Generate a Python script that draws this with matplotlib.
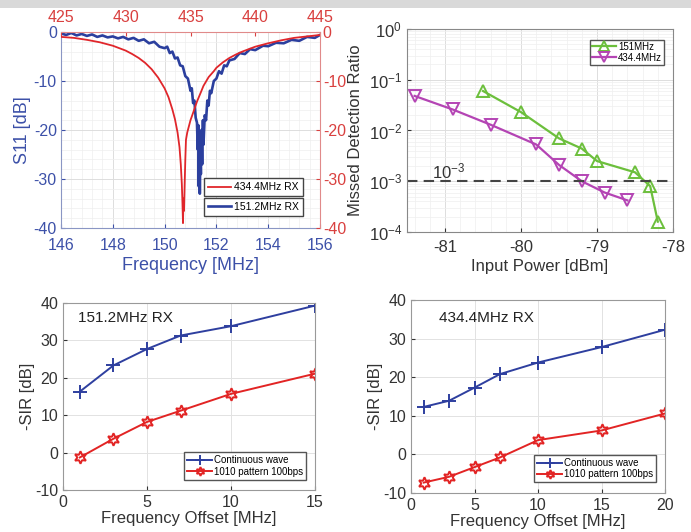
import numpy as np
import matplotlib
matplotlib.use("Agg")
import matplotlib.pyplot as plt
from matplotlib.ticker import AutoMinorLocator, LogLocator, NullFormatter
from matplotlib.patches import Rectangle

plt.rcParams['font.family'] = ['Liberation Sans', 'DejaVu Sans']
plt.rcParams['axes.unicode_minus'] = False
plt.rcParams['mathtext.fontset'] = 'custom'
plt.rcParams['mathtext.rm'] = 'Liberation Sans'
plt.rcParams['mathtext.it'] = 'Liberation Sans'
plt.rcParams['mathtext.default'] = 'regular'

# ---- S11 data ----
# 151.2 MHz RX, bottom axis [MHz], left axis [dB]
f151 = [146.0, 146.2, 146.4, 146.6, 146.8, 147.0, 147.2, 147.4, 147.6, 147.8,
        148.0, 148.2, 148.4, 148.6, 148.8, 149.0, 149.2, 149.4, 149.6, 149.8,
        150.0, 150.1, 150.2, 150.3, 150.4, 150.5, 150.6, 150.7, 150.8, 150.9,
        151.0, 151.05, 151.1, 151.15, 151.2, 151.25, 151.28, 151.30, 151.32, 151.34,
        151.36, 151.38, 151.40, 151.42, 151.45, 151.48, 151.50, 151.55, 151.6, 151.65,
        151.7, 151.75, 151.8, 151.9, 152.0, 152.1, 152.2, 152.3, 152.4, 152.5,
        152.7, 152.9, 153.1, 153.3, 153.5, 153.8, 154.0, 154.3, 154.6, 154.9,
        155.2, 155.5, 155.8, 156.0]
s11_151 = [-0.3, -0.6, -0.2, -0.7, -0.4, -0.8, -0.5, -1.0, -0.7, -1.1,
           -0.9, -1.3, -1.0, -1.5, -1.2, -1.8, -1.5, -2.3, -2.0, -3.0,
           -3.3, -3.0, -4.3, -4.0, -5.4, -5.2, -6.8, -7.0, -9.0, -9.5,
           -12.0, -11.5, -14.5, -14.0, -17.5, -18.5, -24.0, -19.0, -31.5, -22.0,
           -33.0, -24.0, -29.0, -20.0, -27.0, -18.0, -23.0, -17.0, -18.0, -14.0,
           -15.0, -12.0, -12.5, -10.0, -9.5, -8.0, -8.5, -6.8, -7.0, -5.8,
           -5.5, -4.3, -4.5, -3.5, -3.7, -2.8, -2.9, -2.2, -2.3, -1.6,
           -1.8, -1.0, -1.2, -0.6]

# 434.4 MHz RX, top axis [MHz], right axis [dB]
f434 = [425.0, 426.0, 427.0, 428.0, 429.0, 430.0, 430.5, 431.0, 431.5, 432.0,
        432.5, 433.0, 433.3, 433.6, 433.8, 434.0, 434.15, 434.25, 434.33, 434.38,
        434.42, 434.46, 434.50, 434.55, 434.60, 434.65, 434.75, 434.9, 435.0, 435.2,
        435.5, 435.8, 436.0, 436.4, 436.8, 437.0, 437.5, 438.0, 438.5, 439.0,
        440.0, 441.0, 442.0, 443.0, 444.0, 445.0]
s11_434 = [-1.0, -1.2, -1.6, -2.1, -2.8, -3.8, -4.5, -5.3, -6.3, -7.6,
           -9.3, -11.5, -13.3, -15.8, -17.8, -20.5, -23.5, -27.0, -31.0, -35.0,
           -39.0, -34.0, -36.5, -31.0, -26.0, -22.0, -20.5, -19.0, -18.0, -16.5,
           -14.2, -12.3, -11.0, -9.2, -8.0, -7.3, -6.2, -5.3, -4.6, -4.0,
           -3.0, -2.3, -1.7, -1.2, -0.9, -0.6]

# ---- missed detection ratio ----
p151 = [-80.5, -80.0, -79.5, -79.2, -79.0, -78.5, -78.3, -78.2]
mdr151 = [0.06, 0.023, 0.007, 0.0044, 0.0025, 0.0015, 0.0008, 0.00016]
p434 = [-81.4, -80.9, -80.4, -79.8, -79.5, -79.2, -78.9, -78.6]
mdr434 = [0.048, 0.026, 0.013, 0.0053, 0.0021, 0.001, 0.0006, 0.00042]

# ---- SIR ----
off151 = [1, 3, 5, 7, 10, 15]
cw151 = [16.3, 23.3, 27.7, 31.3, 33.8, 39.3]
pat151 = [-1.3, 3.7, 8.2, 11.2, 15.7, 21.1]
off434 = [1, 3, 5, 7, 10, 15, 20]
cw434 = [12.3, 13.9, 17.3, 20.8, 23.8, 27.8, 32.3]
pat434 = [-7.3, -5.8, -3.3, -0.8, 3.7, 6.2, 10.6]

BLUE = '#2b3f9e'
RED = '#e0262b'
BLUE_TXT = '#3c50a8'
RED_TXT = '#d9403f'
GREEN = '#6cbf3c'
MAGENTA = '#b444b4'
LINE_B = '#2e3f9f'
LINE_R = '#e22424'
DARK = '#333333'

W, H = 691, 532
fig = plt.figure(figsize=(W / 100, H / 100), dpi=100)
fig.patches.append(Rectangle((0, 1 - 8 / H), 1, 8 / H, transform=fig.transFigure,
                             facecolor='#d9d9d9', edgecolor='none', zorder=0))


def rect(l, t, r, b):
    return [l / W, 1 - b / H, (r - l) / W, (b - t) / H]


# ---------- S11 panel ----------
ax = fig.add_axes(rect(61, 32, 320, 228))
ax.plot(f151, s11_151, color=BLUE, lw=1.9, label='151.2MHz RX')
ax.set_xlim(146, 156)
ax.set_ylim(-40, 0)
ax.set_xticks(np.arange(146, 157, 2))
ax.set_yticks(np.arange(-40, 1, 10))
ax.xaxis.set_minor_locator(AutoMinorLocator(5))
ax.yaxis.set_minor_locator(AutoMinorLocator(5))
ax.grid(True, which='major', color='#dddddd', lw=0.7)
ax.grid(True, which='minor', color='#eeeeee', lw=0.5)
ax.tick_params(which='both', direction='in', labelsize=11.5, colors=BLUE_TXT, length=3)
ax.tick_params(which='minor', length=0)
ax.tick_params(axis='y', pad=3)
ax.tick_params(axis='x', pad=7)
ax.set_xlabel('Frequency [MHz]', fontsize=13, color=BLUE_TXT, labelpad=3)
ax.set_ylabel('S11 [dB]', fontsize=13, color=BLUE_TXT, labelpad=2)
for s in ['left', 'bottom']:
    ax.spines[s].set_color('#8a96c4')
for s in ['top', 'right']:
    ax.spines[s].set_visible(False)

ax2 = fig.add_axes(rect(61, 32, 320, 228), facecolor='none')
ax2.plot(f434, s11_434, color=RED, lw=1.3, label='434.4MHz RX')
ax2.set_xlim(425, 445)
ax2.set_ylim(-40, 0)
ax2.set_xticks(np.arange(425, 446, 5))
ax2.set_yticks(np.arange(-40, 1, 10))
ax2.xaxis.tick_top()
ax2.yaxis.tick_right()
ax2.tick_params(direction='in', labelsize=11.5, colors=RED_TXT, length=3)
ax2.tick_params(axis='x', pad=5)
ax2.tick_params(axis='y', pad=2)
for s in ['left', 'bottom']:
    ax2.spines[s].set_visible(False)
for s in ['top', 'right']:
    ax2.spines[s].set_color('#e08a8a')

lg1 = ax2.legend(loc='lower right', bbox_to_anchor=(0.955, 0.135), fontsize=7.5,
                 fancybox=False, edgecolor='#444444', handlelength=2.2,
                 borderpad=0.4, handletextpad=0.3, framealpha=1)
lg2 = ax2.legend(*ax.get_legend_handles_labels(), loc='lower right',
                 bbox_to_anchor=(0.955, 0.035), fontsize=7.5, fancybox=False,
                 edgecolor='#444444', handlelength=2.2, borderpad=0.4,
                 handletextpad=0.3, framealpha=1)
ax2.add_artist(lg1)

# ---------- missed detection panel ----------
bx = fig.add_axes(rect(407, 29, 673, 232))
bx.set_yscale('log')
bx.plot(p151, mdr151, color=GREEN, lw=1.6, marker='^', ms=9, mfc='none',
        mew=1.4, label='151MHz')
bx.plot(p434, mdr434, color=MAGENTA, lw=1.6, marker='v', ms=9, mfc='none',
        mew=1.4, label='434.4MHz')
bx.axhline(1e-3, color='#444444', ls=(0, (5, 3)), lw=1.5)
bx.text(-81.17, 1.15e-3, r'$10^{-3}$', fontsize=12, color='#333333')
bx.set_xlim(-81.5, -78)
bx.set_ylim(1e-4, 1)
bx.set_xticks([-81, -80, -79, -78])
bx.yaxis.set_major_locator(LogLocator(base=10, numticks=10))
bx.yaxis.set_minor_locator(LogLocator(base=10, subs=np.arange(2, 10), numticks=10))
bx.yaxis.set_minor_formatter(NullFormatter())
bx.xaxis.set_minor_locator(AutoMinorLocator(5))
bx.grid(True, which='major', color='#dddddd', lw=0.7)
bx.grid(True, which='minor', color='#efefef', lw=0.5)
bx.tick_params(which='both', direction='in', labelsize=12, colors=DARK, length=3)
bx.tick_params(which='minor', length=0)
bx.tick_params(axis='x', pad=6)
bx.set_xlabel('Input Power [dBm]', fontsize=12, color=DARK, labelpad=3)
bx.set_ylabel('Missed Detection Ratio', fontsize=12, color=DARK, labelpad=4)
for s in bx.spines.values():
    s.set_color('#888888')
bx.legend(loc='upper right', bbox_to_anchor=(0.985, 0.97), fontsize=7,
          fancybox=False, edgecolor='#555555', handlelength=2.5, markerscale=0.8,
          borderpad=0.2, labelspacing=0.1, handletextpad=0.2, framealpha=1)


# ---------- SIR panels ----------
def sir_panel(r, off, cw, pat, xmax, xticks, tag, tag_xy):
    cx = fig.add_axes(rect(*r))
    cx.plot(off, cw, color=LINE_B, lw=1.4, marker='+', ms=10, mew=1.4,
            label='Continuous wave')
    cx.plot(off, pat, color=LINE_R, lw=1.4, marker=(6, 1, 0), ms=9,
            mfc='none', mew=1.4, label='1010 pattern 100bps')
    cx.set_xlim(0, xmax)
    cx.set_ylim(-10, 40)
    cx.set_xticks(xticks)
    cx.set_yticks(np.arange(-10, 41, 10))
    cx.grid(True, color='#e2e2e2', lw=0.7)
    cx.tick_params(direction='in', labelsize=11.5, colors=DARK, length=3)
    cx.set_xlabel('Frequency Offset [MHz]', fontsize=12, color=DARK, labelpad=1)
    cx.set_ylabel('-SIR [dB]', fontsize=12, color=DARK, labelpad=0)
    for s in cx.spines.values():
        s.set_color('#999999')
    cx.text(tag_xy[0], tag_xy[1], tag, fontsize=11, color='#222222')
    cx.legend(loc='lower right', bbox_to_anchor=(0.985, 0.03), fontsize=7,
              fancybox=False, edgecolor='#555555', handlelength=2.6,
              markerscale=0.7, borderpad=0.3, labelspacing=0.15,
              handletextpad=0.2, framealpha=1)
    return cx


sir_panel((63, 303, 315, 490), off151, cw151, pat151, 15, [0, 5, 10, 15],
          '151.2MHz RX', (0.9, 34.8))
sir_panel((411, 300, 665, 493), off434, cw434, pat434, 20, [0, 5, 10, 15, 20],
          '434.4MHz RX', (2.2, 34.2))

fig.savefig('out.png', dpi=100)
